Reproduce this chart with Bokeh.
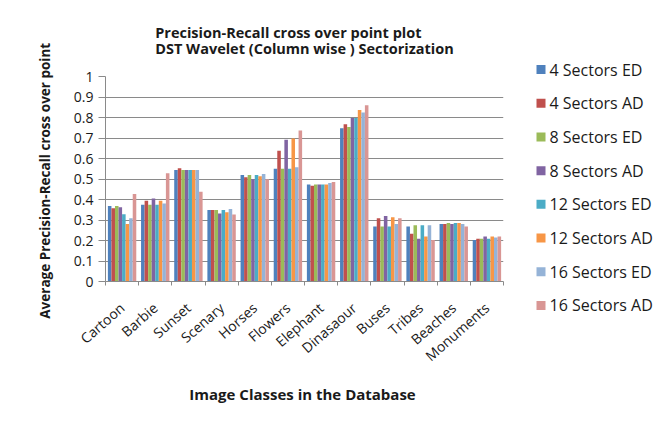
import numpy as np
from bokeh.plotting import figure
from bokeh.layouts import row
from bokeh.core.properties import value
from bokeh.models import (ColumnDataSource, Range1d, LinearAxis, FixedTicker, Grid,
                          CustomJSTickFormatter, Title)
from bokeh.transform import dodge
from bokeh.embed import file_html
from bokeh.resources import INLINE

categories = ["Cartoon", "Barbie", "Sunset", "Scenary", "Horses", "Flowers",
              "Elephant", "Dinasaour", "Buses", "Tribes", "Beaches", "Monuments"]

s4_ed = [0.368, 0.375, 0.544, 0.349, 0.520, 0.550, 0.473, 0.748, 0.268, 0.268, 0.281, 0.202]
s4_ad = [0.357, 0.394, 0.552, 0.349, 0.509, 0.638, 0.467, 0.767, 0.308, 0.233, 0.281, 0.209]
s8_ed = [0.368, 0.375, 0.544, 0.349, 0.520, 0.550, 0.473, 0.754, 0.268, 0.274, 0.285, 0.209]
s8_ad = [0.362, 0.405, 0.544, 0.332, 0.499, 0.691, 0.473, 0.797, 0.320, 0.209, 0.281, 0.220]
s12_ed = [0.328, 0.375, 0.544, 0.349, 0.520, 0.550, 0.473, 0.797, 0.268, 0.274, 0.285, 0.209]
s12_ad = [0.281, 0.394, 0.544, 0.338, 0.514, 0.697, 0.473, 0.836, 0.314, 0.220, 0.285, 0.220]
s16_ed = [0.309, 0.380, 0.544, 0.354, 0.525, 0.557, 0.480, 0.825, 0.281, 0.274, 0.281, 0.215]
s16_ad = [0.427, 0.528, 0.438, 0.327, 0.499, 0.737, 0.485, 0.860, 0.308, 0.202, 0.268, 0.220]

series_names = ["4 Sectors ED", "4 Sectors AD", "8 Sectors ED", "8 Sectors AD",
                "12 Sectors ED", "12 Sectors AD", "16 Sectors ED", "16 Sectors AD"]
series_values = [s4_ed, s4_ad, s8_ed, s8_ad, s12_ed, s12_ad, s16_ed, s16_ad]
colors = ["#4F81BD", "#C0504D", "#9BBB59", "#8064A2",
          "#4BACC6", "#F79646", "#95B3D7", "#D99694"]

y_ticks = [round(i * 0.1, 1) for i in range(11)]

FONT = "Open Sans"
GRID = "#8a8a8a"
TXT = "#1a1a1a"
H = 407

n = len(categories)
data = {"x": [i + 0.5 for i in range(n)]}
for k, vals in enumerate(series_values):
    data["s%d" % k] = vals
src = ColumnDataSource(data)

p = figure(width=520, height=H, output_backend="svg", toolbar_location=None,
           x_range=Range1d(0, n), y_range=Range1d(0, 1),
           x_axis_type=None, y_axis_type=None,
           min_border_left=105, min_border_right=17, min_border_top=76,
           min_border_bottom=H - 285, title=None)
p.frame_align = False
p.outline_line_color = None
p.background_fill_color = "white"
p.border_fill_color = "white"

bw = 0.107
for k in range(len(series_values)):
    p.vbar(x=dodge("x", (k - 3.5) * bw, range=p.x_range), top="s%d" % k,
           width=bw, source=src, fill_color=colors[k], line_color=None)

# y axis
yax = LinearAxis(ticker=FixedTicker(ticks=y_ticks),
                 formatter=CustomJSTickFormatter(code="return tick.toFixed(1).replace(/\\.0$/, '');"),
                 axis_label="Average Precision-Recall  cross over point")
yax.axis_line_color = GRID
yax.major_tick_line_color = GRID
yax.major_tick_out = 7
yax.major_tick_in = 0
yax.minor_tick_line_color = None
yax.major_label_text_font = FONT
yax.major_label_text_font_size = "14px"
yax.major_label_text_color = TXT
yax.major_label_standoff = 5
yax.axis_label_text_font = FONT
yax.axis_label_text_font_style = "bold"
yax.axis_label_text_font_size = "13.5px"
yax.axis_label_text_color = TXT
yax.axis_label_standoff = 17
p.add_layout(yax, "left")

# x axis: labels at category centres, ticks at boundaries
xax = LinearAxis(ticker=FixedTicker(ticks=[i + 0.5 for i in range(n)],
                                    minor_ticks=list(range(n + 1))),
                 formatter=CustomJSTickFormatter(args=dict(names=categories),
                                                 code="return names[Math.floor(tick)];"),
                 axis_label="Image Classes  in the Database")
xax.axis_line_color = GRID
xax.major_tick_line_color = None
xax.major_tick_out = 0
xax.major_tick_in = 0
xax.minor_tick_line_color = GRID
xax.minor_tick_out = 4
xax.minor_tick_in = 0
xax.major_label_orientation = 0.72
xax.major_label_text_font = FONT
xax.major_label_text_font_size = "14px"
xax.major_label_text_color = TXT
xax.major_label_standoff = 20
xax.axis_label_text_font = FONT
xax.axis_label_text_font_style = "bold"
xax.axis_label_text_font_size = "15px"
xax.axis_label_text_color = TXT
xax.axis_label_standoff = 9
p.add_layout(xax, "below")

p.add_layout(Grid(dimension=1, ticker=yax.ticker, grid_line_color=GRID, grid_line_width=1.2))

# two-line title
title = Title(text="Precision-Recall  cross over point plot\nDST Wavelet (Column wise ) Sectorization",
              align="center", offset=33,
              text_font=FONT, text_font_size="14.5px", text_font_style="bold", text_color=TXT,
              text_line_height=0.85, standoff=36)
p.add_layout(title, "above")

# legend drawn in its own narrow panel to the right
lp = figure(width=140, height=H, output_backend="svg", toolbar_location=None,
            x_axis_type=None, y_axis_type=None, min_border=0,
            x_range=Range1d(0, 140), y_range=Range1d(-10.026, 2.047), title=None)
lp.frame_align = False
lp.outline_line_color = None
lp.grid.visible = False
lp.border_fill_color = "white"
lsrc = ColumnDataSource(dict(
    y=[-i for i in range(len(series_names))],
    name=series_names,
    color=colors,
))
lp.scatter(x=20.5, y="y", source=lsrc, marker="square", size=9,
           fill_color="color", line_color=None)
lp.text(x=29, y="y", text="name", source=lsrc, text_baseline="middle",
        text_font=value(FONT), text_font_size="16px", text_color=TXT)

layout = row(p, lp)
open("out.html", "w").write(file_html(layout, INLINE))
